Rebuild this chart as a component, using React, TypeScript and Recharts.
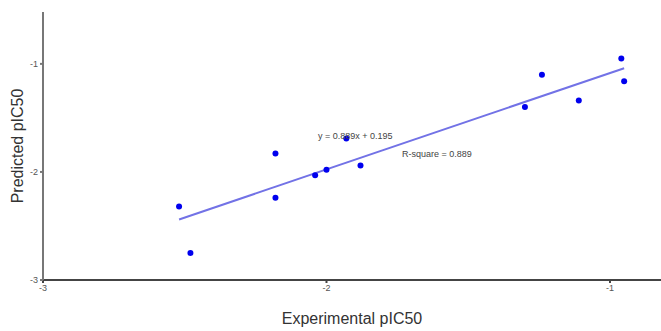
import { ScatterChart, Scatter, XAxis, YAxis, ReferenceLine, ReferenceDot, Label } from 'recharts';

const experimental = [-2.52, -2.48, -2.18, -2.18, -2.04, -2.0, -1.93, -1.88, -1.3, -1.24, -1.11, -0.96, -0.95];
const predicted = [-2.32, -2.75, -1.83, -2.24, -2.03, -1.98, -1.69, -1.94, -1.4, -1.1, -1.34, -0.95, -1.16];
const fitX = [-2.52, -0.95];
const fitY = [-2.44, -1.04];
const xTicks = [-3, -2, -1];
const yTicks = [-3, -2, -1];
const equation = 'y = 0.889x + 0.195';
const rSquare = 'R-square = 0.889';

const points = experimental.map((x, i) => ({ x, y: predicted[i] }));
const fitSegment = fitX.map((x, i) => ({ x, y: fitY[i] }));

const font = 'Liberation Sans, Arial, sans-serif';
const tickStyle = { fontSize: 9, fill: '#555', fontFamily: font };
const titleStyle = { fontSize: 16, fill: '#333', fontFamily: font };

function noteLabel(text: string) {
  return (props: any) => {
    const { viewBox } = props;
    return (
      <text x={viewBox.x} y={viewBox.y} dy={3} fontSize={9} fill="#444" fontFamily={font} textAnchor="start">
        {text}
      </text>
    );
  };
}

function yTitle(props: any) {
  const { viewBox } = props;
  const cx = 17;
  const cy = viewBox.y + viewBox.height / 2;
  return (
    <text
      x={cx}
      y={cy}
      transform={`rotate(-90, ${cx}, ${cy})`}
      textAnchor="middle"
      dominantBaseline="central"
      fontSize={16}
      fill="#333"
      fontFamily={font}
    >
      Predicted pIC50
    </text>
  );
}

export default function App() {
  return (
    <div style={{ position: 'absolute', left: 0, top: 0, background: '#fff' }}>
      <ScatterChart width={661} height={331} margin={{ top: 12, right: 0, bottom: 21, left: 13 }}>
        <XAxis
          type="number"
          dataKey="x"
          domain={[-3, -0.82]}
          ticks={xTicks}
          tick={tickStyle}
          tickSize={3}
          stroke="#444"
          strokeWidth={2}
          height={30}
          allowDataOverflow
        >
          <Label value="Experimental pIC50" position="insideBottom" offset={-14} style={titleStyle} />
        </XAxis>
        <YAxis
          type="number"
          dataKey="y"
          domain={[-3, -0.52]}
          ticks={yTicks}
          tick={tickStyle}
          tickSize={3}
          stroke="#777"
          strokeWidth={2}
          width={30}
          allowDataOverflow
        >
          <Label content={yTitle} />
        </YAxis>
        <ReferenceLine segment={fitSegment} stroke="#7272e6" strokeWidth={2} />
        <Scatter
          data={points}
          fill="#0000ee"
          isAnimationActive={false}
          shape={(p: any) => <circle cx={p.cx} cy={p.cy} r={3} fill="#0000ee" />}
        />
        <ReferenceDot x={-2.03} y={-1.667} r={0} stroke="none" label={noteLabel(equation)} />
        <ReferenceDot x={-1.734} y={-1.833} r={0} stroke="none" label={noteLabel(rSquare)} />
      </ScatterChart>
    </div>
  );
}
